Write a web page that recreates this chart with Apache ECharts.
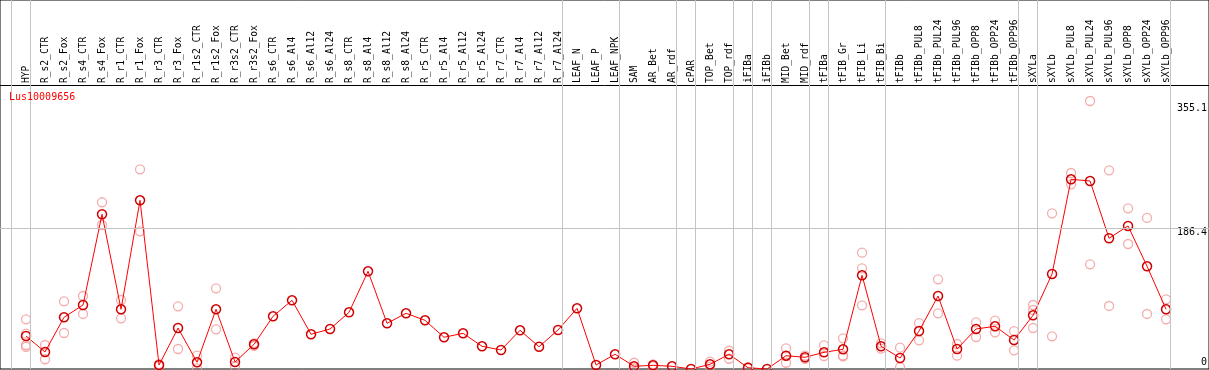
<!DOCTYPE html>
<html>
<head>
<meta charset="utf-8" />
<title>Lus10009656</title>
<script src="https://cdn.jsdelivr.net/npm/echarts@6/dist/echarts.min.js"></script>
<style>
    html, body { margin: 0; padding: 0; background: #fff; }
    #main { width: 1209px; height: 370px; }
</style>
</head>
<body>
<div id="main"></div>
<script type="text/javascript">
    // sample names (header, left to right)
    var samples = ['HYP', 'R_s2_CTR', 'R_s2_Fox', 'R_s4_CTR', 'R_s4_Fox', 'R_r1_CTR', 'R_r1_Fox',
        'R_r3_CTR', 'R_r3_Fox', 'R_r1s2_CTR', 'R_r1s2_Fox', 'R_r3s2_CTR', 'R_r3s2_Fox',
        'R_s6_CTR', 'R_s6_Al4', 'R_s6_Al12', 'R_s6_Al24', 'R_s8_CTR', 'R_s8_Al4', 'R_s8_Al12', 'R_s8_Al24',
        'R_r5_CTR', 'R_r5_Al4', 'R_r5_Al12', 'R_r5_Al24', 'R_r7_CTR', 'R_r7_Al4', 'R_r7_Al12', 'R_r7_Al24',
        'LEAF_N', 'LEAF_P', 'LEAF_NPK', 'SAM', 'AR_Bet', 'AR_rdf', 'cPAR', 'TOP_Bet', 'TOP_rdf',
        'iFIBa', 'iFIBb', 'MID_Bet', 'MID_rdf', 'tFIBa', 'tFIB_Gr', 'tFIB_Li', 'tFIB_Bi',
        'tFIBb', 'tFIBb_PUL8', 'tFIBb_PUL24', 'tFIBb_PUL96', 'tFIBb_OPP8', 'tFIBb_OPP24', 'tFIBb_OPP96',
        'sXYLa', 'sXYLb', 'sXYLb_PUL8', 'sXYLb_PUL24', 'sXYLb_PUL96', 'sXYLb_OPP8', 'sXYLb_OPP24', 'sXYLb_OPP96'];

    // mean expression per sample
    var meanValues = [43.7, 22.5, 68.5, 84.8, 205, 79.1, 223.5, 5.3, 54.3, 8.9, 79.1, 9.3, 32.7,
        69.8, 91, 46, 53, 75.1, 129.4, 60.5, 73.8, 64.5, 42, 47.3, 30.1, 25.2, 51.3, 29.5, 51.7,
        80.4, 5.3, 19.5, 3.6, 4.9, 3.6, 0, 6.2, 19.5, 1.7, 0, 17.6, 15.5, 22.1, 26.1, 124.1, 30.1,
        14.6, 50.3, 96.7, 26.5, 53, 56.6, 38.4, 71.1, 125.9, 251.3, 249.1, 173.2, 189.5, 136.1, 79.1];

    // replicates (null = none shown)
    var rep1 = [65.8, 31.8, 89.7, 96.7, 220.9, 91.4, 264.6, 6.5, 83.1, 17.6, 106.9, 15, 34,
        null, null, null, null, null, null, null, null, null, null, null, null, null, null, null, null,
        null, null, null, 8.3, 6.2, null, null, 9.7, 24.2, 2.6, null, 27.4, 17.6, 31.4, 40.7, 154.1, 34,
        28.2, 60.9, 118.8, 33.1, 61.9, 64, 50.3, 84.8, 206.3, 259.7, 355.1, 263.2, 212.9, 200.1, 92.3];
    var rep2 = [46.8, 12.9, 47.7, 72.9, 190.8, 67.2, 182.4, 4, 26.5, 0.9, 52.6, 3, 30.5,
        null, null, null, null, null, null, null, null, null, null, null, null, null, null, null, null,
        null, null, null, 1, 3.6, null, null, 3, 13.6, 0.9, null, 8.3, 13.6, 17.2, 17.9, 133.4, 26.9,
        2.3, 38, 73.8, 17.6, 42.4, 48.6, 24.8, 54.3, 43.3, 244.7, 138.7, 83.5, 165.6, 72.9, 65.8];
    var rep3 = {0: 31.8, 43: 16.6, 44: 84.4, 53: 78.2};
    var rep4 = {0: 29.5};

    // last sample of each group (gray separators), -1 = left edge
    var groupEnds = [-1, 0, 28, 31, 34, 35, 37, 38, 39, 41, 42, 45, 52, 53, 60];

    // y axis labels
    var yLabels = [0, 186.4, 355.1];
    var geneName = 'Lus10009656';

    var mono = '"DejaVu Sans Mono", "Liberation Mono", monospace';

    var meanData = meanValues.map(function (v, i) { return [i, v]; });
    var repData = [];
    [rep1, rep2].forEach(function (arr) {
        arr.forEach(function (v, i) { if (v !== null) repData.push([i, v]); });
    });
    [rep3, rep4].forEach(function (obj) {
        Object.keys(obj).forEach(function (k) { repData.push([+k, obj[k]]); });
    });

    var sepLines = groupEnds.map(function (i) { return { xAxis: i + 0.22 }; });
    sepLines.push({ yAxis: yLabels[1] });

    var myChart = echarts.init(document.getElementById('main'), null, { renderer: 'canvas' });
    var option = {
        animation: false,
        backgroundColor: '#ffffff',
        title: {
            text: geneName,
            left: 9,
            top: 92,
            padding: 0,
            textStyle: { color: '#ff0000', fontSize: 10, fontWeight: 'normal', fontFamily: mono }
        },
        grid: {
            left: 0, right: 0, top: 0, bottom: 1,
            show: true,
            borderColor: '#000',
            borderWidth: 1,
            backgroundColor: '#fff',
            outerBoundsMode: 'none'
        },
        xAxis: {
            type: 'value',
            position: 'top',
            offset: -85,
            min: -1.37,
            max: 62.26,
            splitLine: { show: false },
            axisTick: { show: false },
            axisLine: { show: true, onZero: false, lineStyle: { color: '#000', width: 1 } },
            axisLabel: {
                customValues: samples.map(function (s, i) { return i; }),
                formatter: function (v) { return samples[v]; },
                rotate: -90,
                margin: 2,
                hideOverlap: false,
                fontSize: 9.6,
                fontFamily: mono,
                color: '#000'
            }
        },
        yAxis: {
            type: 'value',
            position: 'right',
            min: 0,
            max: 488.9,
            splitLine: { show: false },
            axisLine: { show: false },
            axisTick: { show: false },
            axisLabel: {
                inside: true,
                margin: 2,
                customValues: yLabels,
                formatter: function (v) {
                    if (v === 0) return '{b|' + v + '}';
                    if (v > 300) return '{t|' + v + '}';
                    return '{m|' + v + '}';
                },
                fontSize: 10,
                fontFamily: mono,
                color: '#000',
                rich: {
                    t: { padding: [14, 0, 0, 0], fontSize: 10, fontFamily: mono, color: '#000' },
                    m: { padding: [8, 0, 0, 0], fontSize: 10, fontFamily: mono, color: '#000' },
                    b: { padding: [0, 0, 14, 0], fontSize: 10, fontFamily: mono, color: '#000' }
                }
            }
        },
        series: [
            {
                name: 'replicates',
                type: 'scatter',
                data: repData,
                symbol: 'circle',
                symbolSize: 9,
                z: 3,
                itemStyle: { color: 'rgba(0,0,0,0)', borderColor: '#f09999', borderWidth: 1.3 },
                markLine: {
                    silent: true,
                    symbol: ['none', 'none'],
                    label: { show: false },
                    lineStyle: { color: '#c4c4c4', width: 1, type: 'solid' },
                    data: sepLines
                }
            },
            {
                name: geneName,
                type: 'line',
                data: meanData,
                z: 4,
                showSymbol: true,
                showAllSymbol: true,
                symbol: 'circle',
                symbolSize: 9,
                lineStyle: { color: '#ff0000', width: 1 },
                itemStyle: { color: 'rgba(255,255,255,0)', borderColor: '#d00000', borderWidth: 1.5 }
            }
        ]
    };
    myChart.setOption(option);
</script>
</body>
</html>
